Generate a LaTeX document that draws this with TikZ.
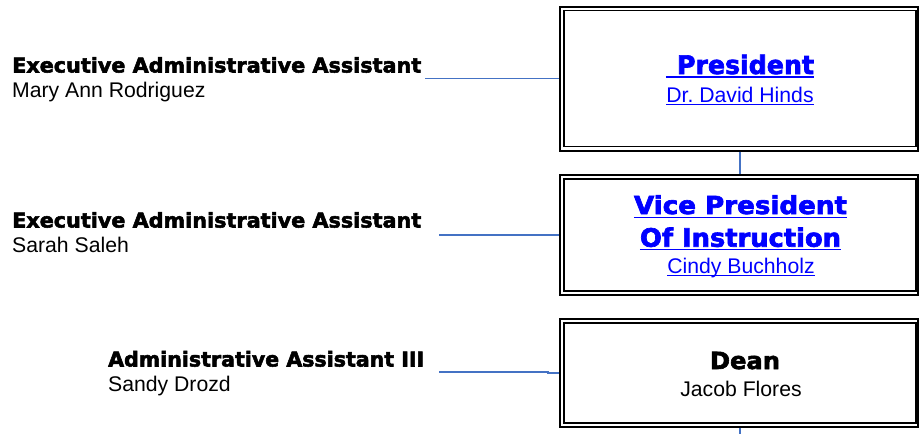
\documentclass[tikz,border=0pt]{standalone}
\usepackage{fontspec}
\usepackage{graphicx}
\setmainfont{Liberation Sans}
\newfontfamily\hfont{DejaVu Sans}[BoldFeatures={FakeBold=2.6}]
\definecolor{connblue}{RGB}{68,114,196}
\definecolor{linkblue}{RGB}{0,0,255}
\newcommand\HeadTxt[3]{\resizebox{#1pt}{#2pt}{\hfont\bfseries #3}}
\tikzset{
  nm/.style={inner sep=0pt, font=\fontsize{21.2}{25}\selectfont},
  hd/.style={inner sep=0pt},
  conn/.style={draw=connblue, line width=1.4pt},
  outerbox/.style={draw=black, line width=2pt, minimum width=358pt, inner sep=0pt, fill=white},
  innerbox/.style={draw=black, line width=1.5pt},
  ulh/.style={draw=linkblue, line width=1.3pt},
  uln/.style={draw=linkblue, line width=1pt},
}
\begin{document}
\begin{tikzpicture}[x=1pt,y=-1pt]
\useasboundingbox[fill=white] (0,0) rectangle (919,434);

% boxes
\node[outerbox, minimum height=144pt] (pres) at (739,78.7) {};
\draw[innerbox] ([xshift=5pt,yshift=-5pt]pres.north west) rectangle ([xshift=-3pt,yshift=5pt]pres.south east);
\node[outerbox, minimum height=120pt] (vp) at (739,235) {};
\draw[innerbox] ([xshift=5pt,yshift=-5pt]vp.north west) rectangle ([xshift=-3pt,yshift=5pt]vp.south east);
\node[outerbox, minimum height=107.4pt] (dean) at (739,373) {};
\draw[innerbox] ([xshift=5pt,yshift=-4.5pt]dean.north west) rectangle ([xshift=-3pt,yshift=4.7pt]dean.south east);

% box texts
\node[hd, anchor=base, text=linkblue] (prest) at (745.5,74) {\HeadTxt{137}{19.4}{President}};
\draw[ulh] ([xshift=-11pt,yshift=-3pt]prest.base west) -- ([yshift=-3pt]prest.base east);
\node[nm, anchor=base, text=linkblue] (presn) at (740,102) {Dr.\ David Hinds};
\draw[uln] ([yshift=-2.2pt]presn.base west) -- ([yshift=-2.2pt]presn.base east);

\node[hd, anchor=base, text=linkblue] (vpt1) at (740.5,214) {\HeadTxt{213}{18.8}{Vice President}};
\draw[ulh] ([yshift=-3.5pt]vpt1.base west) -- ([yshift=-3.5pt]vpt1.base east);
\node[hd, anchor=base, text=linkblue] (vpt2) at (740.5,246.7) {\HeadTxt{201}{19.2}{Of Instruction}};
\draw[ulh] ([yshift=-2.8pt]vpt2.base west) -- ([yshift=-2.8pt]vpt2.base east);
\node[nm, anchor=base, text=linkblue] (vpn) at (741,273.3) {Cindy Buchholz};
\draw[uln] ([yshift=-2.5pt]vpn.base west) -- ([yshift=-2.5pt]vpn.base east);

\node[hd, anchor=base] (deant) at (745,369) {\HeadTxt{70}{17.2}{Dean}};
\node[nm, anchor=base] (deann) at (741,396) {Jacob Flores};

% left texts
\node[hd, anchor=base west] (a1h) at (12,72.5) {\HeadTxt{409}{15.4}{Executive Administrative Assistant}};
\node[nm, anchor=base west] (a1n) at (12,97) {Mary Ann Rodriguez};
\node[hd, anchor=base west] (a2h) at (12,227.5) {\HeadTxt{409}{15.4}{Executive Administrative Assistant}};
\node[nm, anchor=base west] (a2n) at (12,252) {Sarah Saleh};
\node[hd, anchor=base west] (a3h) at (108,366.5) {\HeadTxt{316}{15.6}{Administrative Assistant III}};
\node[nm, anchor=base west] (a3n) at (108,391) {Sandy Drozd};

% connectors
\draw[conn] ([xshift=4pt]a1h.east |- pres.west) -- (pres.west);
\draw[conn] ([xshift=18pt]a2h.east |- vp.west) -- (vp.west);
\coordinate (j3) at (548,371.8);
\draw[conn] ([xshift=15pt]a3h.east |- j3) -- (j3) |- (dean.west);
\draw[conn] ([xshift=1pt]pres.south) -- ([xshift=1pt]vp.north);
\coordinate (bot) at (740,434);
\draw[conn] ([xshift=1pt]dean.south) -- (bot);
\end{tikzpicture}
\end{document}
